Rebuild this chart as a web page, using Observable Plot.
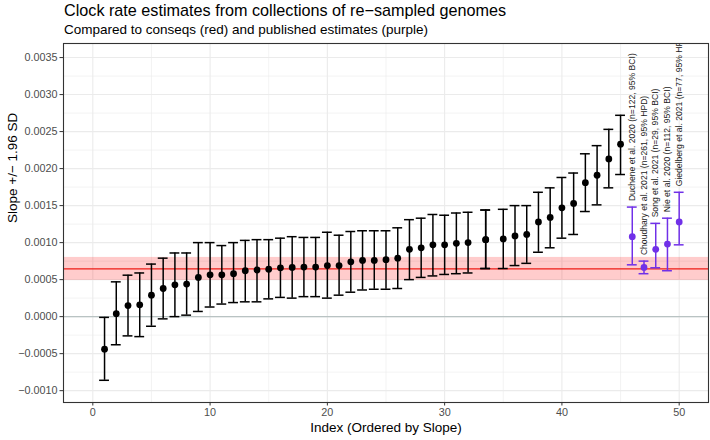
<!DOCTYPE html>
<html>
<head>
<meta charset="utf-8">
<script src="https://cdn.jsdelivr.net/npm/d3@7"></script>
<script src="https://cdn.jsdelivr.net/npm/@observablehq/plot@0.6"></script>
<style>
  body { margin: 0; background: #fff; font-family: "Liberation Sans", Arial, Helvetica, sans-serif; }
  #wrap { position: relative; width: 710px; height: 440px; overflow: hidden; background: #fff; }
  #title { position: absolute; left: 64px; top: 1px; font-size: 16.2px; line-height: 18px; color: #000; white-space: nowrap; }
  #subtitle { position: absolute; left: 64px; top: 21.5px; font-size: 13.5px; line-height: 15px; color: #000; white-space: nowrap; }
  #chart { position: absolute; left: 0; top: 41px; }
</style>
</head>
<body>
<div id="wrap">
  <div id="title"></div>
  <div id="subtitle"></div>
  <div id="chart"></div>
</div>
<script>
// ---- Data ----
const titleText = "Clock rate estimates from collections of re\u2212sampled genomes";
const subtitleText = "Compared to conseqs (red) and published estimates (purple)";
const xLabel = "Index (Ordered by Slope)";
const yLabel = "Slope +/\u2212 1.96 SD";

// re-sampled collections (index ordered by slope; two tied at 33.5)
const sampleIndex = [1,2,3,4,5,6,7,8,9,10,11,12,13,14,15,16,17,18,19,20,21,22,23,24,25,26,27,28,29,30,31,32,33.5,33.5,35,36,37,38,39,40,41,42,43,44,45];
const sampleSlope = [-0.00044,0.00004,0.00015,0.00016,0.00029,0.00038,0.00043,0.00044,0.00053,0.000565,0.000565,0.00058,0.00062,0.00063,0.00064,0.00066,0.000665,0.00067,0.00067,0.00069,0.00069,0.00074,0.00076,0.00076,0.00077,0.00079,0.00091,0.00093,0.00097,0.00097,0.00099,0.00100,0.00104,0.00104,0.00105,0.00109,0.00111,0.00128,0.00134,0.00147,0.00153,0.00181,0.00191,0.00213,0.00233];
const sampleLow = [-0.00086,-0.00038,-0.00026,-0.00027,-0.00013,-0.00003,0.00000,0.00002,0.00007,0.00013,0.00017,0.00019,0.00020,0.00020,0.00024,0.00026,0.00025,0.00027,0.00027,0.00025,0.00029,0.00033,0.00036,0.00037,0.00037,0.00038,0.00050,0.00053,0.00055,0.00057,0.00058,0.00059,0.00065,0.00065,0.00065,0.00069,0.00072,0.00087,0.00093,0.00106,0.00111,0.00142,0.00151,0.00174,0.00192];
const sampleHigh = [-0.00001,0.00047,0.00056,0.00059,0.00071,0.00079,0.00086,0.00086,0.00100,0.00100,0.00096,0.00100,0.00103,0.00104,0.00104,0.00106,0.00108,0.00107,0.00107,0.00114,0.00110,0.00115,0.00116,0.00116,0.00116,0.00120,0.00131,0.00133,0.00138,0.00137,0.00140,0.00141,0.00144,0.00144,0.00145,0.00150,0.00150,0.00168,0.00174,0.00188,0.00194,0.00220,0.00231,0.00253,0.00272];

// published estimates
const pubLabel = ["Duchene et al. 2020 (n=122, 95% BCI)","Choudhary et al. 2021 (n=261, 95% HPD)","Song et al. 2021 (n=29, 95% BCI)","Nie et al. 2020 (n=112, 95% BCI)","Giedelberg et al. 2021 (n=77, 95% HPD)"];
const pubIndex = [46,47,48,49,50];
const pubSlope = [0.00108,0.000665,0.00091,0.00098,0.00128];
const pubLow = [0.00070,0.00058,0.00066,0.00062,0.00097];
const pubHigh = [0.00148,0.00075,0.00126,0.00133,0.00168];

// conseqs estimate and its interval
const conseqSlope = [0.000645];
const conseqLow = [0.00049];
const conseqHigh = [0.00080];

// ticks
const xTicks = [0,10,20,30,40,50];
const xMinor = [5,15,25,35,45];
const yTicks = [-0.0010,-0.0005,0,0.0005,0.0010,0.0015,0.0020,0.0025,0.0030,0.0035];
const yMinor = [-0.00075,-0.00025,0.00025,0.00075,0.00125,0.00175,0.00225,0.00275,0.00325];

// ---- Build tables ----
const samples = sampleIndex.map((x, i) => ({x, y: sampleSlope[i], lo: sampleLow[i], hi: sampleHigh[i]}));
const pubs = pubIndex.map((x, i) => ({x, y: pubSlope[i], lo: pubLow[i], hi: pubHigh[i], label: pubLabel[i]}));
const band = conseqSlope.map((y, i) => ({y, lo: conseqLow[i], hi: conseqHigh[i]}));

document.getElementById("title").textContent = titleText;
document.getElementById("subtitle").textContent = subtitleText;

const black = "#000000";
const purple = "#7030e8";
const capHalf = 0.42;
const gridColor = "#ebebeb";

const errorMarks = (data, color) => [
  Plot.ruleX(data, {x: "x", y1: "lo", y2: "hi", stroke: color, strokeWidth: 1.5}),
  Plot.ruleY(data, {y: "lo", x1: d => d.x - capHalf, x2: d => d.x + capHalf, stroke: color, strokeWidth: 1.5}),
  Plot.ruleY(data, {y: "hi", x1: d => d.x - capHalf, x2: d => d.x + capHalf, stroke: color, strokeWidth: 1.5}),
  Plot.dot(data, {x: "x", y: "y", r: 3.4, fill: color, stroke: "none"})
];

const chart = Plot.plot({
  width: 710,
  height: 399,
  marginTop: 2,
  marginBottom: 38,
  marginLeft: 63,
  marginRight: 2,
  style: {fontFamily: '"Liberation Sans", Arial, Helvetica, sans-serif', background: "#fff", color: "#4d4d4d"},
  x: {domain: [-2.5, 52.5], axis: null},
  y: {domain: [-0.00116, 0.00369], axis: null},
  marks: [
    Plot.gridX(xMinor, {stroke: gridColor, strokeOpacity: 1, strokeWidth: 0.6}),
    Plot.gridY(yMinor, {stroke: gridColor, strokeOpacity: 1, strokeWidth: 0.6}),
    Plot.gridX(xTicks, {stroke: gridColor, strokeOpacity: 1, strokeWidth: 1.1}),
    Plot.gridY(yTicks, {stroke: gridColor, strokeOpacity: 1, strokeWidth: 1.1}),
    Plot.rect(band, {y1: "lo", y2: "hi", fill: "#ff0000", fillOpacity: 0.2}),
    Plot.ruleY(band, {y: "y", stroke: "#ee1c17", strokeWidth: 1.4}),
    Plot.ruleY([0], {stroke: "#b9c3c3", strokeWidth: 1.3}),
    ...errorMarks(samples, black),
    ...errorMarks(pubs, purple),
    Plot.text(pubs, {x: "x", y: "hi", text: "label", rotate: -90, textAnchor: "start", dy: -6, fontSize: 8.6, fill: "#1a1a1a", clip: true}),
    Plot.frame({stroke: "#333333", strokeWidth: 1.1}),
    Plot.axisX({ticks: xTicks, tickSize: 3.5, tickPadding: 2.5, fontSize: 10.8, label: null, stroke: "#333333", fill: "#4d4d4d"}),
    Plot.axisY({ticks: yTicks, tickFormat: d3.format(".4f"), tickSize: 3.5, tickPadding: 2.5, fontSize: 10.8, label: null, stroke: "#333333", fill: "#4d4d4d"}),
    Plot.text([xLabel], {frameAnchor: "bottom", dy: 29, fontSize: 13.5, fill: "#000"}),
    Plot.text([yLabel], {frameAnchor: "left", rotate: -90, dx: -51, fontSize: 13.5, fill: "#000"})
  ]
});
document.getElementById("chart").appendChild(chart);
</script>
</body>
</html>
